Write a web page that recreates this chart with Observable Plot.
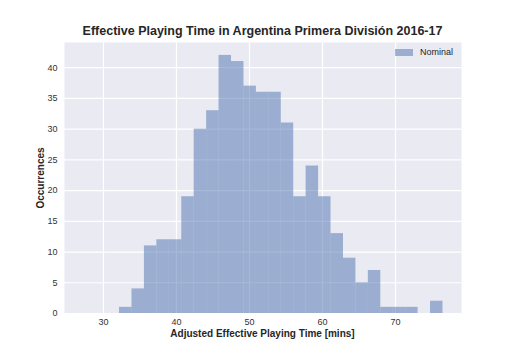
<!DOCTYPE html>
<html><head><meta charset="utf-8">
<script src="https://cdn.jsdelivr.net/npm/d3@7"></script>
<script src="https://cdn.jsdelivr.net/npm/@observablehq/plot@0.6"></script>
<style>
body{margin:0;background:#fff;font-family:"Liberation Sans",Arial,sans-serif;}
#wrap{position:relative;width:512px;height:352px;}
.t{position:absolute;color:#262626;white-space:nowrap;}
#title{left:0;width:525px;text-align:center;top:24px;font-size:12.5px;font-weight:bold;}
#xl{left:0;width:525px;text-align:center;top:328px;font-size:10px;font-weight:bold;}
#yl{left:40px;top:178px;font-size:10px;font-weight:bold;transform:translate(-50%,-50%) rotate(-90deg);}
#leg{left:395px;top:47px;font-size:9px;display:flex;align-items:center;}
#leg span.sw{display:inline-block;width:18px;height:7px;background:#4C72B0;opacity:0.5;margin-right:7px;}
</style></head>
<body><div id="wrap"><div id="chart"></div>
<div class="t" id="title">Effective Playing Time in Argentina Primera División 2016-17</div>
<div class="t" id="xl">Adjusted Effective Playing Time [mins]</div>
<div class="t" id="yl">Occurrences</div>
<div class="t" id="leg"><span class="sw"></span>Nominal</div>
</div>
<script>
const binStart = 32.2;
const binWidth = 1.704;
const counts = [1,4,11,12,12,19,30,33,42,41,37,36,36,31,19,24,19,13,9,5,7,1,1,1,0,2];
const xTicks = [30,40,50,60,70];
const yTicks = [0,5,10,15,20,25,30,35,40];

const bins = counts.map((c,i)=>({x1: binStart + i*binWidth, x2: binStart + (i+1)*binWidth, y: c}));

const chart = Plot.plot({
  width: 512, height: 352,
  marginLeft: 64, marginRight: 51, marginTop: 42, marginBottom: 39,
  style: {fontFamily: '"Liberation Sans", Arial, sans-serif', fontSize: "9px", color: "#333", background: "transparent"},
  x: {domain: [24.66, 79.04], ticks: xTicks},
  y: {domain: [0, 44.1], ticks: yTicks},
  marks: [
    Plot.frame({fill: "#EAEAF2", stroke: null}),
    Plot.gridX(xTicks, {stroke: "white", strokeOpacity: 1, strokeWidth: 1.2}),
    Plot.gridY(yTicks, {stroke: "white", strokeOpacity: 1, strokeWidth: 1.2}),
    Plot.rectY(bins, {x1: "x1", x2: "x2", y: "y", fill: "#4C72B0", fillOpacity: 0.5}),
    Plot.axisX(xTicks, {tickSize: 0, tickPadding: 5, label: null}),
    Plot.axisY(yTicks, {tickSize: 0, tickPadding: 7, label: null})
  ]
});
document.getElementById("chart").appendChild(chart);
</script></body></html>
